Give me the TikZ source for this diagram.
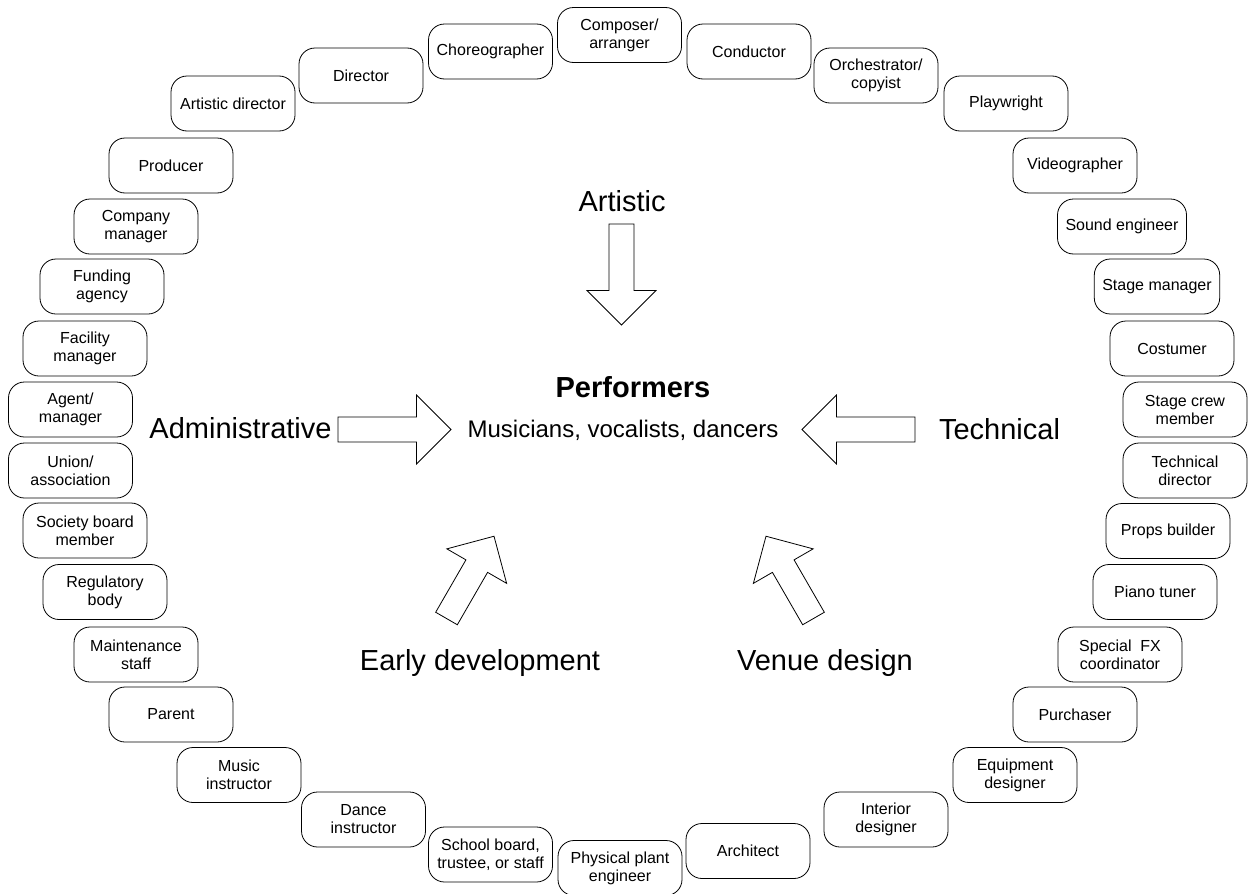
\documentclass[tikz,border=0pt]{standalone}
\usepackage{fontspec}
\setmainfont{Liberation Sans}

\newcommand{\bigarrow}[4]{%
  \draw[hollow,shift={(#1,#2)},rotate=#3] (0,-12.5) -- (#4-34.5,-12.5) -- (#4-34.5,-34.5)
    -- (#4,0) -- (#4-34.5,34.5) -- (#4-34.5,12.5) -- (0,12.5) -- cycle;}

\begin{document}
\begin{tikzpicture}[x=1pt,y=-1pt,
  role/.style={draw,rounded corners=16pt,line width=0.8pt,minimum width=124pt,
    minimum height=55pt,inner xsep=8pt,align=center,font=\fontsize{16}{18}\selectfont},
  area/.style={anchor=base,font=\fontsize{29}{34}\selectfont},
  hollow/.style={draw,line width=0.8pt,line join=miter}]
\useasboundingbox (0,0) rectangle (1250,894);
\node[role] (composer) at (619.5,35) {Composer/\\arranger};
\node[role] (choreographer) at (490.5,51.5) {Choreographer};
\node[role] (conductor) at (749,51.5) {Conductor};
\node[role] (director) at (361,75.5) {Director};
\node[role] (orchestrator) at (876,75.5) {Orchestrator/\\copyist};
\node[role] (artdirector) at (233,103.5) {Artistic director};
\node[role] (playwright) at (1006,103.5) {Playwright};
\node[role] (producer) at (171,165.5) {Producer};
\node[role] (videographer) at (1075,165.5) {Videographer};
\node[role] (companymgr) at (136,226.5) {Company\\manager};
\node[role] (soundeng) at (1122,226.5) {Sound engineer};
\node[role] (funding) at (102,286.5) {Funding\\agency};
\node[role] (stagemgr) at (1157,286.5) {Stage manager};
\node[role] (facility) at (85,348.5) {Facility\\manager};
\node[role] (costumer) at (1172,348.5) {Costumer};
\node[role] (agent) at (70.5,409.5) {Agent/\\manager};
\node[role] (stagecrew) at (1185,409.5) {Stage crew\\member};
\node[role] (union) at (70.5,470.5) {Union/\\association};
\node[role] (techdir) at (1185,470.5) {Technical\\director};
\node[role] (society) at (85,530.5) {Society board\\member};
\node[role] (props) at (1168,531) {Props builder};
\node[role] (regulatory) at (105,592) {Regulatory\\body};
\node[role] (piano) at (1155,592) {Piano tuner};
\node[role] (maintenance) at (136,654.5) {Maintenance\\staff};
\node[role] (specialfx) at (1120,654.5) {Special\ \ FX\\coordinator};
\node[role] (parent) at (171,714.5) {Parent};
\node[role] (purchaser) at (1075,714.5) {Purchaser};
\node[role] (music) at (239,775) {Music\\instructor};
\node[role] (equipment) at (1015,775) {Equipment\\designer};
\node[role] (dance) at (363.5,819.5) {Dance\\instructor};
\node[role] (interior) at (886,819.5) {Interior\\designer};
\node[role] (school) at (490.5,854.5) {School board,\\trustee, or staff};
\node[role] (architect) at (748,851) {Architect};
\node[role] (physical) at (620,868) {Physical plant\\engineer};
\node[anchor=base,font=\fontsize{29}{34}\selectfont\bfseries] (performers) at (633,397) {Performers};
\node[anchor=base,font=\fontsize{24}{28}\selectfont] (kinds) at (623,437) {Musicians, vocalists, dancers};
\node[area] (artistic) at (622,211) {Artistic};
\node[area] (admin) at (240.5,438) {Administrative};
\node[area] (technical) at (999.5,439) {Technical};
\node[area] (early) at (480,670) {Early development};
\node[area] (venue) at (825,670) {Venue design};
\bigarrow{621.5}{224}{-90}{101}
\bigarrow{338}{429.5}{0}{113}
\bigarrow{915}{429.5}{180}{113}
\bigarrow{446.5}{618.5}{60}{95}
\bigarrow{813.5}{618.5}{120}{95}
\end{tikzpicture}
\end{document}
